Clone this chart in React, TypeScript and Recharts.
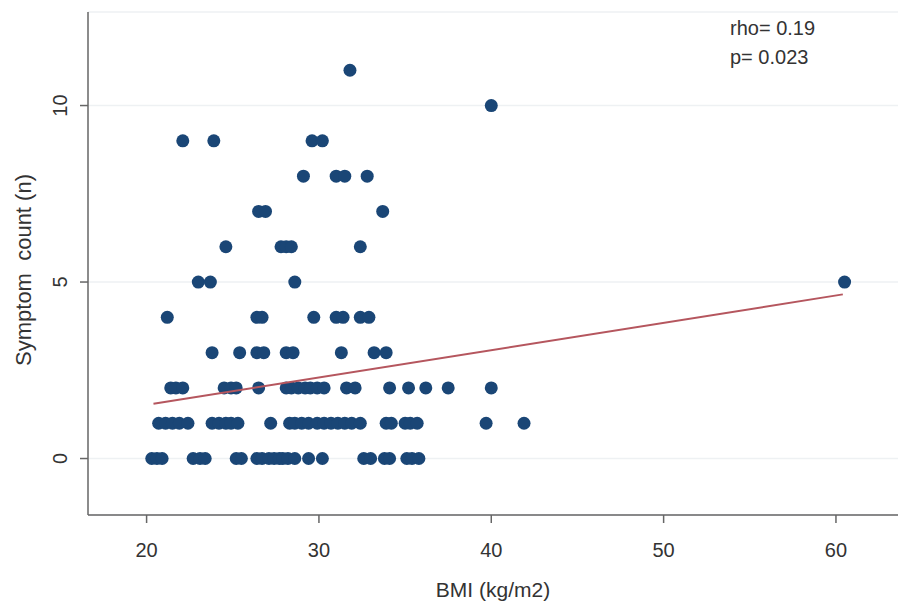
import React from "react";
import { ScatterChart, Scatter, XAxis, YAxis, CartesianGrid, Label } from "recharts";

// BMI values of the patients, grouped by their symptom count
const bmiCount0 = [20.3, 20.6, 20.9, 22.7, 23.1, 23.4, 25.2, 25.5, 26.4, 26.7, 27.1, 27.4, 27.7, 27.9, 28.2, 28.6, 29.4, 30.2, 32.6, 33.0, 33.8, 34.1, 35.1, 35.4, 35.8];
const bmiCount1 = [20.7, 21.1, 21.5, 21.9, 22.4, 23.8, 24.2, 24.6, 24.9, 25.3, 27.2, 28.3, 28.6, 29.0, 29.4, 29.9, 30.3, 30.7, 31.1, 31.5, 31.9, 32.4, 33.9, 34.2, 35.0, 35.3, 35.7, 39.7, 41.9];
const bmiCount2 = [21.4, 21.7, 22.1, 24.5, 24.9, 25.2, 26.5, 28.1, 28.4, 28.8, 29.2, 29.5, 29.9, 30.3, 31.6, 32.1, 34.1, 35.2, 36.2, 37.5, 40.0];
const bmiCount3 = [23.8, 25.4, 26.4, 26.8, 28.1, 28.5, 31.3, 33.2, 33.9];
const bmiCount4 = [21.2, 26.4, 26.7, 29.7, 31.0, 31.4, 32.4, 32.9];
const bmiCount5 = [23.0, 23.7, 28.6, 60.5];
const bmiCount6 = [24.6, 27.8, 28.1, 28.4, 32.4];
const bmiCount7 = [26.5, 26.9, 33.7];
const bmiCount8 = [29.1, 31.0, 31.5, 32.8];
const bmiCount9 = [22.1, 23.9, 29.6, 30.2];
const bmiCount10 = [40.0];
const bmiCount11 = [31.8];

const bmiGroups = [bmiCount0, bmiCount1, bmiCount2, bmiCount3, bmiCount4, bmiCount5, bmiCount6, bmiCount7, bmiCount8, bmiCount9, bmiCount10, bmiCount11];

// fitted line end points
const trendBmi = [20.4, 60.4];
const trendCount = [1.55, 4.65];

const xTicks = [20, 30, 40, 50, 60];
const yTicks = [0, 5, 10];

const points = bmiGroups.flatMap((group, count) => group.map((bmi) => ({ bmi, count })));
const trend = trendBmi.map((bmi, i) => ({ bmi, count: trendCount[i] }));

const FONT = "'Liberation Sans', Arial, sans-serif";
const DOT = "#1a4676";

const Dot = (props: any) => <circle cx={props.cx} cy={props.cy} r={6.5} fill={DOT} />;

const YTick = (props: any) => {
  const { x, y, payload } = props;
  const bx = x - 11;
  return (
    <text x={bx} y={y} transform={`rotate(-90, ${bx}, ${y})`} textAnchor="middle" fontSize={20} fill="#333" fontFamily={FONT}>
      {payload.value}
    </text>
  );
};

export default function App() {
  return (
    <div style={{ position: "absolute", left: 0, top: 0, width: 899, height: 605, background: "#fff" }}>
      <ScatterChart width={899} height={605} margin={{ top: 12, right: 1, left: 0, bottom: 0 }}>
        <CartesianGrid vertical={false} stroke="#eef1f3" strokeWidth={1.5} />
        <XAxis
          type="number"
          dataKey="bmi"
          domain={[16.6, 63.6]}
          allowDataOverflow
          ticks={xTicks}
          height={90}
          tickSize={8}
          tickMargin={20}
          stroke="#666"
          strokeWidth={1.5}
          tick={{ fill: "#333", fontSize: 20, fontFamily: FONT }}
        >
          <Label value="BMI (kg/m2)" position="insideBottom" offset={8} fill="#333" fontSize={21} fontFamily={FONT} />
        </XAxis>
        <YAxis
          type="number"
          dataKey="count"
          domain={[-1.6, 12.65]}
          allowDataOverflow
          ticks={yTicks}
          width={88}
          tickSize={8}
          stroke="#666"
          strokeWidth={1.5}
          tick={<YTick />}
        >
          <Label
            content={() => (
              <text x={31} y={270} transform="rotate(-90, 31, 270)" textAnchor="middle" fontSize={22} fill="#333" fontFamily={FONT} style={{ whiteSpace: "pre" }}>
                {"Symptom  count (n)"}
              </text>
            )}
          />
        </YAxis>
        <Scatter data={points} shape={<Dot />} isAnimationActive={false} />
        <Scatter data={trend} line={{ stroke: "#b5565e", strokeWidth: 2 }} shape={() => <g />} isAnimationActive={false} />
      </ScatterChart>
      <div style={{ position: "absolute", left: 730, top: 14, fontFamily: FONT, fontSize: 20, color: "#333", lineHeight: "29px" }}>
        <div>rho= 0.19</div>
        <div>p= 0.023</div>
      </div>
    </div>
  );
}
